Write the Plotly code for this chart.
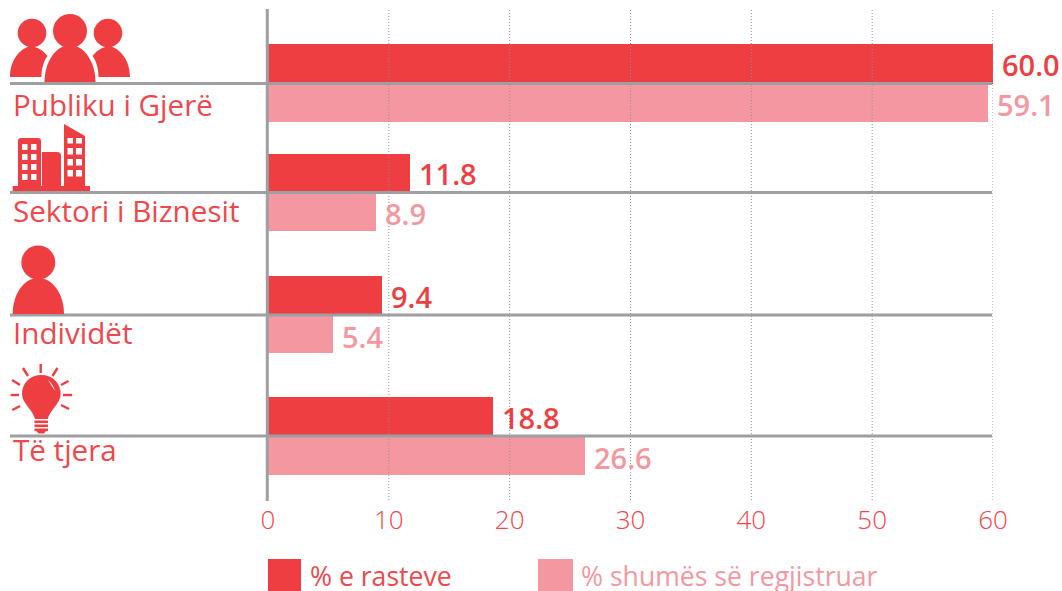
import plotly.graph_objects as go

categories = ["Publiku i Gjerë", "Sektori i Biznesit", "Individët", "Të tjera"]
# printed values
pct_cases = [60.0, 11.8, 9.4, 18.8]
pct_amount = [59.1, 8.9, 5.4, 26.6]
# bar lengths as measured against the axis in the picture (differ slightly from the printed labels)
cases_bar_len = [60.0, 11.73, 9.46, 18.65]
amount_bar_len = [59.59, 8.94, 5.35, 26.23]
series_names = ["% e rasteve", "% shumës së regjistruar"]
x_ticks = [0, 10, 20, 30, 40, 50, 60]

W, H = 1062, 591
DARK, LIGHT, GREY = "#ef3e42", "#f597a0", "#9d9fa2"
TEXTRED = "#ef474c"
FONT = "Open Sans"

# layout: separator line of each row on a pixel-like vertical axis (rows are unevenly spaced)
row_lines = [83.5, 192.5, 315, 436]
label_y = [104, 210, 332, 449.5]
dark_h = [39.5, 39, 39, 39]
light_h = [38.5, 38.5, 38, 39]

fig = go.Figure()
fig.add_bar(name=series_names[0], orientation="h", x=cases_bar_len, y=row_lines,
            width=dark_h, offset=[-h for h in dark_h], marker=dict(color=DARK, line_width=0),
            showlegend=False)
fig.add_bar(name=series_names[1], orientation="h", x=amount_bar_len, y=row_lines,
            width=light_h, offset=0, marker=dict(color=LIGHT, line_width=0), showlegend=False)
# hidden trace keeping the full-figure overlay axes alive
fig.add_scatter(x=[0, W], y=[0, H], xaxis="x2", yaxis="y2", mode="markers",
                marker=dict(opacity=0), hoverinfo="skip", showlegend=False)

shapes, notes = [], []


def px_path(d, color=DARK):
    shapes.append(dict(type="path", path=d, xref="x2", yref="y2", fillcolor=color, line_width=0, layer="above"))


def px_circle(cx, cy, r, color=DARK):
    shapes.append(dict(type="circle", x0=cx - r, x1=cx + r, y0=cy - r, y1=cy + r, xref="x2", yref="y2",
                       fillcolor=color, line_width=0, layer="above"))


def px_rect(x0, y0, x1, y1, color=DARK):
    shapes.append(dict(type="rect", x0=x0, x1=x1, y0=y0, y1=y1, xref="x2", yref="y2",
                       fillcolor=color, line_width=0, layer="above"))


def px_line(x0, y0, x1, y1, color=DARK, w=2.4):
    shapes.append(dict(type="line", x0=x0, x1=x1, y0=y0, y1=y1, xref="x2", yref="y2",
                       line=dict(color=color, width=w), layer="above"))


# dotted grid on top of the bars
for t in x_ticks[1:]:
    shapes.append(dict(type="line", xref="x", yref="y2", x0=t, x1=t, y0=10, y1=500,
                       line=dict(color="#8f9194", width=1, dash="1px,2px"), layer="above"))
# axis + row lines
for y in row_lines:
    shapes.append(dict(type="line", xref="x2", yref="y", x0=10, x1=992, y0=y, y1=y,
                       line=dict(color=GREY, width=3), layer="above"))
px_line(267.3, 9, 267.3, 501, GREY, 3)

# icon: people
px_circle(32, 33, 14.3)
px_circle(108, 33, 14.3)
px_circle(70, 31, 17)
px_path("M10,77 C10,60 20,48 31,46 C37,47 43,50 47.5,56 C43,62 41.5,70 41.5,77 Z")
px_path("M130,77 C130,60 120,48 109,46 C103,47 97,50 92.5,56 C97,62 98.5,70 98.5,77 Z")
px_path("M44.5,82 C44.5,62 56,45 70,45 C84,45 95.5,62 95.5,82 Z")
# icon: buildings
px_rect(12.7, 186, 90, 191)
px_path("M18,186 L18,141 Q18,138 21,138 L38,138 Q41,138 41,141 L41,186 Z")
px_path("M42,186 L42,152 L57,152 Q61,152 61,156 L61,186 Z")
px_path("M64,186 L64,124 L85,136 L85,186 Z")
for top, bot in [(144, 150), (154, 160), (164, 170), (174, 180)]:
    px_rect(22, top, 27.5, bot, "white")
    px_rect(31, top, 36.5, bot, "white")
for top, bot in [(138, 143.5), (148, 154.5), (159, 165.5), (170, 176.5)]:
    px_rect(67.5, top, 73, bot, "white")
    px_rect(76, top, 82, bot, "white")
# icon: person
px_circle(38.3, 262.5, 17)
px_path("M12.7,314 C12.7,294 24,278 38.3,278 C52.6,278 64,294 64,314 Z")
# icon: bulb
px_path("M35,419 C33,410 22,403 22,394 C22,383 30,375 41.3,375 C52.6,375 60.7,383 60.7,394 "
        "C60.7,403 50,410 47.7,419 Z")
px_path("M48,380 Q53,384 55,391", "white")
for top in (420.5, 424.5, 428.5):
    px_rect(34.5, top, 48, top + 2.6)
px_path("M36.5,431 L46,431 L44,433.5 L38.5,433.5 Z")
for r in [(40.7, 364, 40.7, 373), (23, 368, 28, 376), (57.5, 368, 52.5, 376), (12, 380, 20, 385),
          (68.5, 381, 61, 385), (10.7, 395, 19, 395), (63, 395, 72, 395), (12.3, 410, 20, 406), (69, 409, 61, 405)]:
    px_line(*r)


def note(x, y, text, color, size=29.6, weight=400, xref="x2", yref="y2", xshift=0, height=None):
    notes.append(dict(x=x, y=y, text=text, xref=xref, yref=yref, xanchor="left", yanchor="middle",
                      showarrow=False, xshift=xshift, borderpad=0, borderwidth=0, height=height,
                      font=dict(family=FONT, size=size, color=color, weight=weight)))


for name, y in zip(categories, label_y):
    note(13, y, name, TEXTRED)

for v, b, y, h in zip(pct_cases, cases_bar_len, row_lines, dark_h):
    note(b, y - h / 2 + 0.5, f"{v:.1f}", DARK, weight=600, xref="x", yref="y", xshift=9, size=29)
for v, b, y, h in zip(pct_amount, amount_bar_len, row_lines, light_h):
    note(b, y + h / 2 + 2, f"{v:.1f}", LIGHT, weight=600, xref="x", yref="y", xshift=9, size=29)

# legend
px_rect(268, 559, 301, 591, DARK)
px_rect(538, 559, 573, 591, LIGHT)
note(309.5, 575.5, series_names[0], TEXTRED, size=26.6, height=30)
note(581, 575.5, series_names[1], LIGHT, size=26.6, height=30)

fig.update_layout(
    width=W, height=H, margin=dict(l=0, r=0, t=0, b=0, autoexpand=False), autosize=False,
    paper_bgcolor="white", plot_bgcolor="rgba(0,0,0,0)", barmode="overlay", bargap=0,
    shapes=shapes, annotations=notes,
    xaxis=dict(domain=[268 / W, 993 / W], range=[0, 60], tickvals=x_ticks, showgrid=False, zeroline=False,
               showline=False, ticks="", ticklabelstandoff=2, anchor="y", fixedrange=True,
               tickfont=dict(family=FONT, size=26, color=TEXTRED, weight=300)),
    yaxis=dict(domain=[1 - 500 / H, 1 - 10 / H], range=[500, 10], showgrid=False, zeroline=False,
               showline=False, showticklabels=False, ticks="", anchor="x", fixedrange=True),
    xaxis2=dict(domain=[0, 1], range=[0, W], visible=False, anchor="y2", fixedrange=True),
    yaxis2=dict(domain=[0, 1], range=[H, 0], visible=False, anchor="x2", fixedrange=True),
)
fig.write_html("out.html", config=dict(displayModeBar=False),
               post_script="document.body.style.margin='0';document.body.style.overflow='hidden';")
